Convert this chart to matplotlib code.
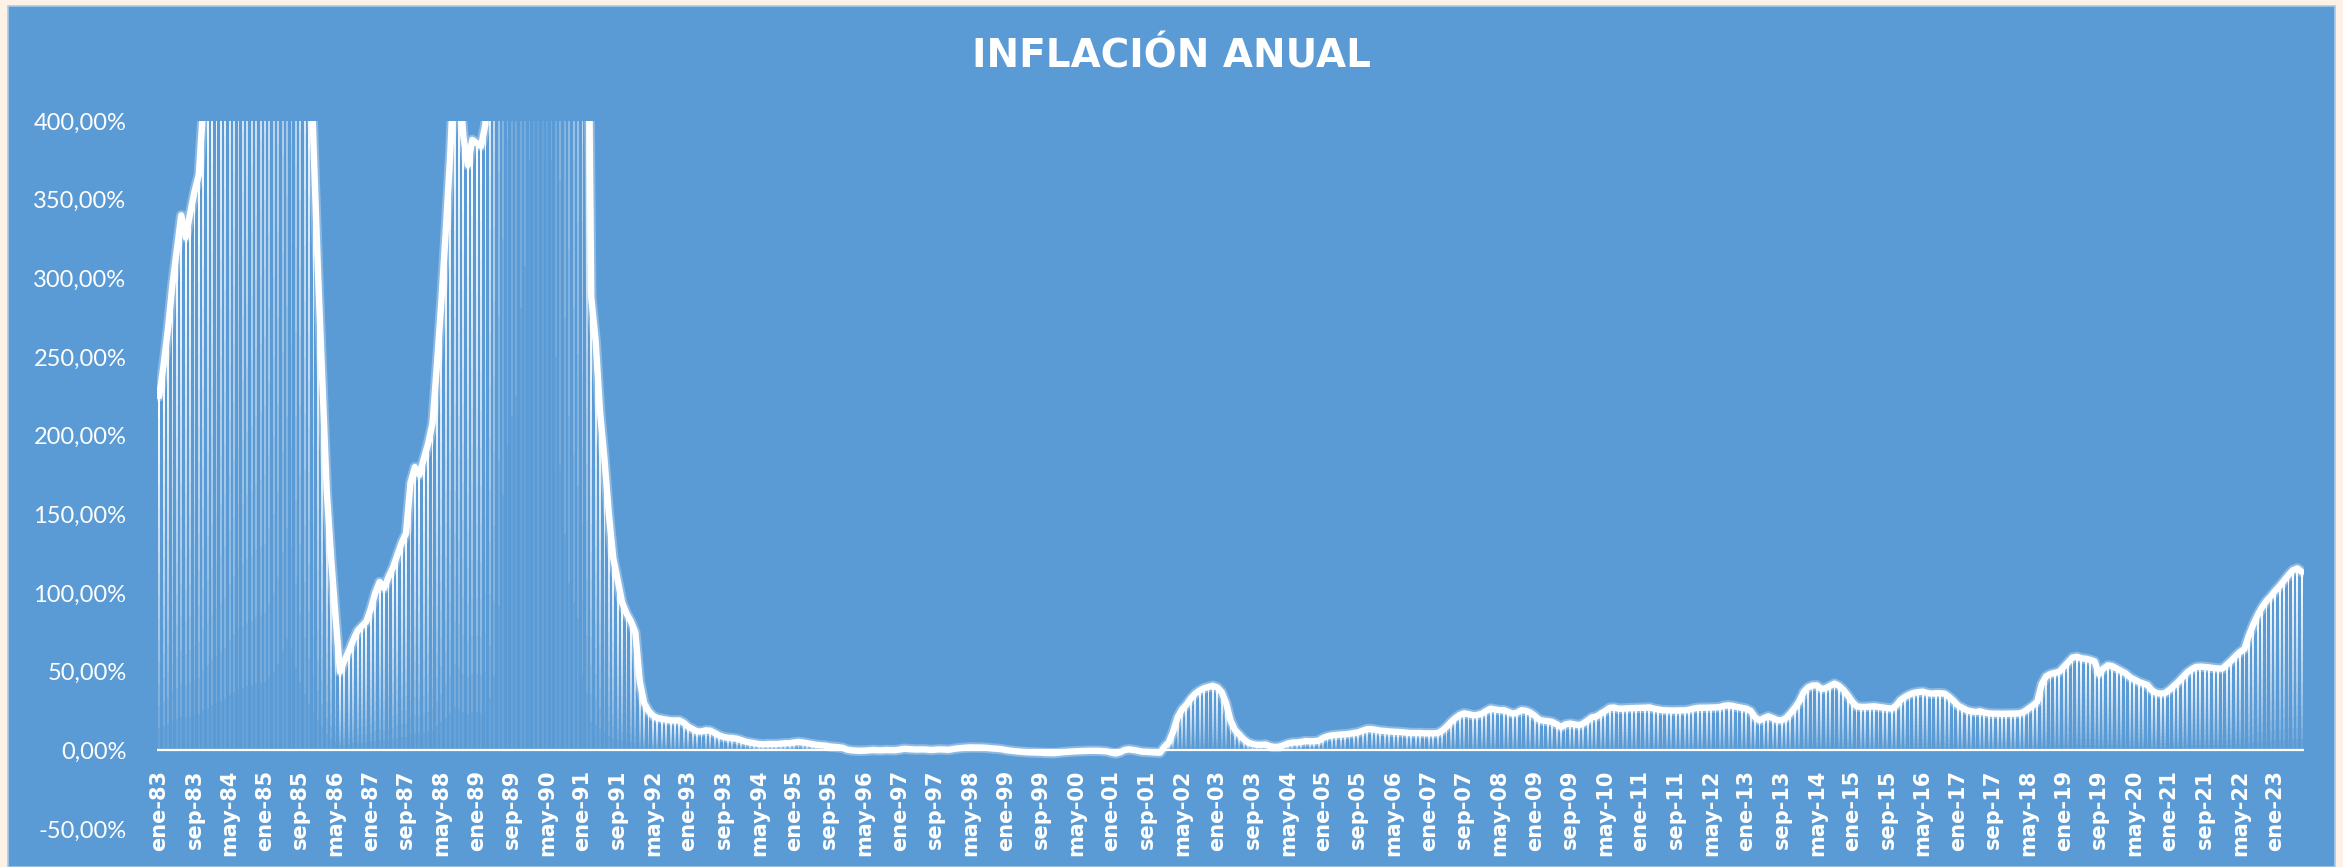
import numpy as np
import matplotlib
matplotlib.use("Agg")
import matplotlib.pyplot as plt
from matplotlib.patches import Rectangle

# Inflación interanual mensual (%), ene-83 a jul-23
inf_1983 = [225, 245, 268, 296, 318, 340, 326, 341, 355, 366, 410, 434]
inf_1984 = [460, 480, 500, 520, 560, 590, 620, 630, 650, 660, 680, 688]
inf_1985 = [700, 750, 800, 880, 1010, 1129, 1030, 850, 700, 570, 470, 385]
inf_1986 = [305, 235, 165, 122, 85, 50, 57, 63, 70, 76, 79, 82]
inf_1987 = [90, 100, 107, 103, 110, 116, 124, 132, 138, 170, 180, 175]
inf_1988 = [185, 195, 208, 245, 285, 330, 378, 440, 425, 390, 372, 388]
inf_1989 = [386, 384, 398, 530, 760, 1470, 2600, 3100, 3400, 3600, 4500, 4923]
inf_1990 = [6000, 9000, 20000, 11000, 9000, 6000, 4000, 2900, 2200, 1700, 1500, 1344]
inf_1991 = [768, 582, 288, 260, 215, 185, 150, 122, 108, 94, 87, 82]
inf_1992 = [75, 44, 30, 25, 22, 20.5, 20, 19.5, 19, 19, 19, 17.5]
inf_1993 = [15, 13.5, 12, 12, 12.7, 12.5, 11, 9.5, 8.5, 8, 7.8, 7.4]
inf_1994 = [6.5, 5.5, 5, 4.5, 4, 3.8, 4, 4, 4, 4.2, 4.5, 4.5]
inf_1995 = [5, 5.3, 5, 4.5, 4, 3.5, 3.2, 3, 2.5, 2.2, 2, 1.6]
inf_1996 = [0.5, 0, -0.2, -0.3, -0.2, 0, 0.2, 0, 0, 0.2, 0.1, 0.1]
inf_1997 = [0.5, 1.0, 0.8, 0.6, 0.5, 0.6, 0.5, 0.2, 0.4, 0.6, 0.5, 0.3]
inf_1998 = [0.8, 1.2, 1.5, 1.7, 1.9, 1.8, 1.8, 1.7, 1.5, 1.2, 1.0, 0.7]
inf_1999 = [0.2, -0.2, -0.5, -0.8, -1.0, -1.2, -1.3, -1.4, -1.5, -1.7, -1.7, -1.8]
inf_2000 = [-1.5, -1.2, -1.0, -0.8, -0.6, -0.5, -0.4, -0.3, -0.3, -0.3, -0.5, -0.7]
inf_2001 = [-1.5, -2.0, -1.2, 0.2, 0.6, 0.2, -0.3, -0.9, -1.0, -1.2, -1.4, -1.5]
inf_2002 = [2.3, 5, 12, 21, 26, 29, 33, 36, 38, 39.5, 40.3, 41]
inf_2003 = [40, 37, 30, 19, 13, 10, 7, 5, 4, 3.5, 3.5, 3.7]
inf_2004 = [2.6, 2.1, 2.3, 3.2, 4.3, 4.9, 5, 5.3, 5.9, 5.7, 5.8, 6.1]
inf_2005 = [7.9, 8.9, 9.5, 9.8, 10, 10.2, 10.5, 11, 11.5, 12.5, 13.5, 13.5]
inf_2006 = [13, 12.5, 12.3, 12, 11.8, 11.7, 11.5, 11.2, 11, 11, 11, 10.8]
inf_2007 = [10.8, 10.8, 11, 12.5, 15, 18, 20.5, 22.5, 23.5, 23, 22.3, 22.5]
inf_2008 = [23.3, 25, 26.5, 26, 25.5, 25.5, 24.5, 23.3, 24, 25.5, 25.2, 24]
inf_2009 = [22, 19.5, 18.8, 18.5, 18, 16.5, 14.8, 16.5, 17, 16.5, 16, 17]
inf_2010 = [19, 21, 21.5, 23.3, 25, 27, 27.2, 26.5, 26.5, 26.7, 26.8, 26.9]
inf_2011 = [27, 27.1, 27.3, 26.5, 26, 25.5, 25.4, 25.3, 25.3, 25.4, 25.4, 25.8]
inf_2012 = [26.5, 27, 27.1, 27.1, 27.2, 27.3, 27.5, 28.3, 28.6, 28.2, 27.5, 27]
inf_2013 = [26.5, 25, 21, 19, 20.5, 21.6, 20.5, 19.2, 19.1, 20.5, 23.5, 27]
inf_2014 = [31, 37, 40, 41.2, 41.3, 39, 39.5, 41, 42.4, 41, 38.5, 35]
inf_2015 = [31, 28, 27.6, 27.6, 27.8, 28, 27.6, 27.2, 26.8, 26.5, 28.5, 32]
inf_2016 = [34, 35.5, 36.5, 37, 37.3, 36.5, 36, 36.3, 36.3, 36, 34, 31.5]
inf_2017 = [28.5, 27, 25.5, 24.8, 24.4, 24.8, 24, 23.5, 23.3, 23.3, 23.2, 23.3]
inf_2018 = [23.3, 23.4, 23.5, 24.5, 26.5, 28.5, 31, 42, 47, 48.5, 49.2, 50]
inf_2019 = [53, 56, 59, 59.5, 58.5, 58.2, 57.5, 56.5, 48.5, 52, 54, 53.5]
inf_2020 = [52, 50.5, 49, 46.5, 45, 43.5, 42.5, 41.5, 38, 36.5, 36, 36.5]
inf_2021 = [38.5, 41, 43.5, 46.5, 49.5, 51.5, 53, 53.2, 53, 52.7, 52.3, 52]
inf_2022 = [52, 54.5, 57, 60, 62.5, 64.5, 73, 80, 86, 91, 95, 98]
inf_2023 = [101.5, 104.5, 108, 111.5, 114.5, 115.6, 113.4]

MESES = ["ene", "feb", "mar", "abr", "may", "jun", "jul", "ago", "sep", "oct", "nov", "dic"]
ANIO_INICIO = 1983
Y_TICKS = [-50, 0, 50, 100, 150, 200, 250, 300, 350, 400]

AZUL = "#5B9BD5"
CREMA = "#FEF1E6"

valores = np.array(
    inf_1983 + inf_1984 + inf_1985 + inf_1986 + inf_1987 + inf_1988 + inf_1989
    + inf_1990 + inf_1991 + inf_1992 + inf_1993 + inf_1994 + inf_1995 + inf_1996
    + inf_1997 + inf_1998 + inf_1999 + inf_2000 + inf_2001 + inf_2002 + inf_2003
    + inf_2004 + inf_2005 + inf_2006 + inf_2007 + inf_2008 + inf_2009 + inf_2010
    + inf_2011 + inf_2012 + inf_2013 + inf_2014 + inf_2015 + inf_2016 + inf_2017
    + inf_2018 + inf_2019 + inf_2020 + inf_2021 + inf_2022 + inf_2023,
    dtype=float,
)
x = np.arange(len(valores))

W, H = 2343, 867
fig = plt.figure(figsize=(W / 100, H / 100), dpi=100, facecolor=CREMA)
# fondo azul del área del gráfico
fondo = Rectangle((8 / W, 0), (2335 - 8) / W, (H - 6) / H, transform=fig.transFigure,
                  facecolor=AZUL, edgecolor="#A9C9E8", lw=1.2, zorder=-10)
fig.add_artist(fondo)

ax = fig.add_axes([157 / W, 38 / H, 2147 / W, 708 / H])
ax.set_facecolor("none")
ax.set_zorder(1)

# barras finas con degradado blanco (arriba) -> azul (base)
n_seg = 16
for k in range(n_seg):
    alpha = ((k + 0.5) / n_seg) ** 0.75
    ax.bar(x, valores / n_seg, bottom=valores * k / n_seg, width=0.42,
           color=(1, 1, 1, alpha), linewidth=0, zorder=2)

ax.axhline(0, color="white", lw=1.6, zorder=3)

# línea gruesa con un leve halo
ax.plot(x, valores, color="white", lw=7.5, alpha=0.3, solid_joinstyle="round",
        solid_capstyle="round", zorder=4)
ax.plot(x, valores, color="white", lw=4.6, solid_joinstyle="round",
        solid_capstyle="round", zorder=5)

ax.set_xlim(-0.5, len(valores) - 0.5)
ax.set_ylim(-50, 400)

for s in ax.spines.values():
    s.set_color("none")
ax.spines["bottom"].set_position(("data", 0))

pos = np.arange(0, len(valores), 8)
etiquetas = [f"{MESES[p % 12]}-{(ANIO_INICIO + p // 12) % 100:02d}" for p in pos]
ax.set_xticks(pos)
ax.set_xticklabels(etiquetas, rotation=90, fontweight="bold", fontsize=15,
                   color="white", family="DejaVu Sans")
ax.tick_params(axis="x", length=0, pad=14)

ax.set_yticks(Y_TICKS)
ax.set_yticklabels([f"{v:.2f}".replace(".", ",") + "%" for v in Y_TICKS],
                   fontsize=17, color="white", family="Lato")
ax.tick_params(axis="y", length=0, pad=22)

fig.text(0.5, 1 - 57 / H, "INFLACIÓN ANUAL", ha="center", va="center",
         color="white", fontsize=28, fontweight="bold", family="DejaVu Sans")

fig.savefig("out.png", dpi=100, facecolor=fig.get_facecolor())
